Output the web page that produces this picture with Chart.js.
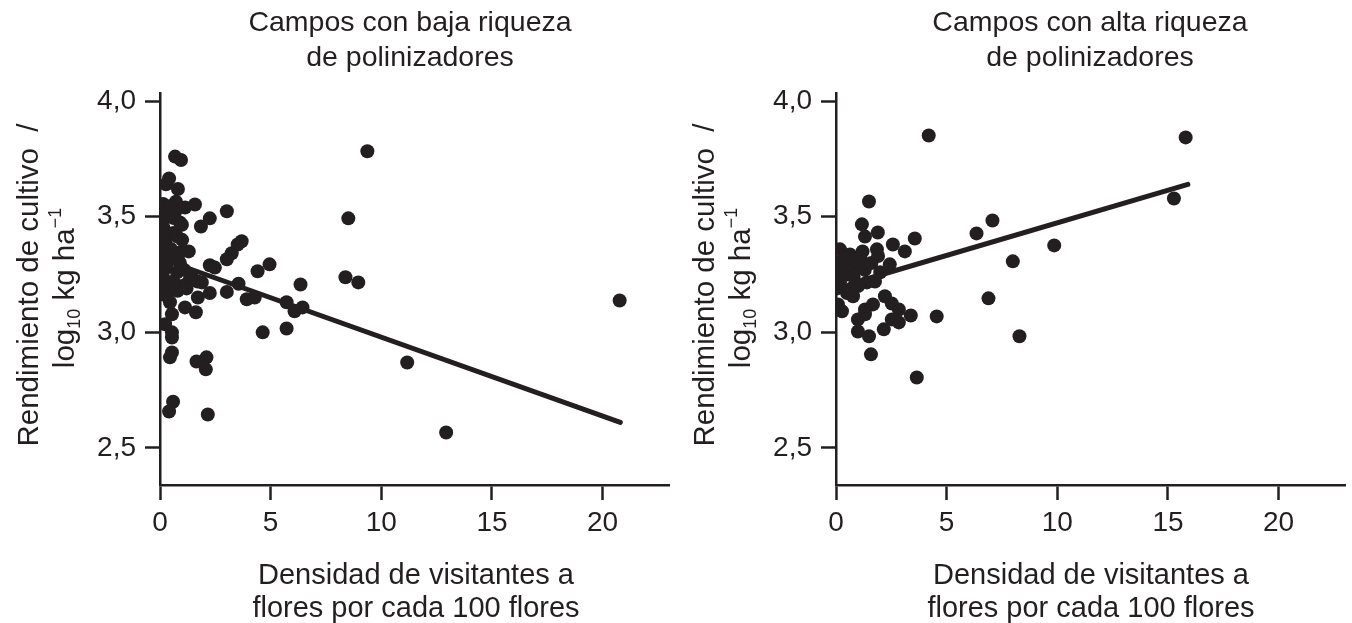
<!DOCTYPE html>
<html>
<head>
<meta charset="utf-8">
<title>Rendimiento de cultivo y densidad de visitantes a flores</title>
<script src="https://cdn.jsdelivr.net/npm/chart.js@4.4.0/dist/chart.umd.min.js"></script>
<style>
  html, body { margin: 0; padding: 0; background: #ffffff; }
  body { width: 1352px; height: 623px; position: relative; overflow: hidden;
         font-family: "Liberation Sans", Arial, Helvetica, sans-serif; color: #231f20; }
  .panel { position: absolute; top: 0; width: 676px; height: 623px; }
  .panel canvas { position: absolute; left: 0; top: 0; }
  .title, .xlab { position: absolute; width: 600px; text-align: center;
                  line-height: 35px; white-space: nowrap; }
  .title { font-size: 28.5px; }
  .xlab { font-size: 29px; line-height: 33px; }
  .ylab { position: absolute; font-size: 29.5px; line-height: 30px; white-space: nowrap;
          transform: translate(-50%, -50%) rotate(-90deg); }
  .ylab sub { font-size: 18px; vertical-align: -6px; line-height: 0; }
  .ylab sup { font-size: 18px; vertical-align: 13px; line-height: 0; }
</style>
</head>
<body>

<div class="panel" id="panelLow" style="left:0px;">
  <canvas id="chartLow" width="676" height="623"></canvas>
  <div class="title" style="left:110px; top:4px;">Campos con baja riqueza<br>de polinizadores</div>
  <div class="xlab" style="left:116px; top:558px;">Densidad de visitantes a<br>flores por cada 100 flores</div>
  <div class="ylab" style="left:28px; top:285px;">Rendimiento de cultivo&nbsp;&nbsp;/</div>
  <div class="ylab" style="left:64px; top:288px;">log<sub>10</sub> kg ha<sup>−1</sup></div>
</div>

<div class="panel" id="panelHigh" style="left:676px;">
  <canvas id="chartHigh" width="676" height="623"></canvas>
  <div class="title" style="left:114px; top:4px;">Campos con alta riqueza<br>de polinizadores</div>
  <div class="xlab" style="left:115px; top:558px;">Densidad de visitantes a<br>flores por cada 100 flores</div>
  <div class="ylab" style="left:28px; top:285px;">Rendimiento de cultivo&nbsp;&nbsp;/</div>
  <div class="ylab" style="left:64px; top:288px;">log<sub>10</sub> kg ha<sup>−1</sup></div>
</div>

<script>
// Visitor density (per 100 flowers) and crop yield (log10 kg/ha), low pollinator richness fields
const lowX = [0.68, 0.95, 0.41, 0.27, 0.81, 0.14, 0.45, 0.72, 1.58, 1.13,
              3.02, 2.25, 1.85, 0.05, 0.05, 0.32, 0.14, 0.68, 0.59, 0.90,
              0.99, 0.59, 0.77, 0.14, 0.14, 0.23, 3.69, 3.51, 3.24, 3.02,
              2.25, 2.48, 4.95, 4.41, 6.35, 0.14, 0.54, 0.99, 0.14, 0.77,
              0.90, 1.10, 1.30, 1.00, 0.80, 1.40, 1.20, 0.60, 0.30, 0.50,
              1.70, 0.32, 0.45, 0.54, 0.23, 0.54, 0.54, 0.54, 0.45, 0.59,
              0.41, 1.65, 2.10, 2.07, 2.16, 4.64, 5.72, 1.13, 1.62, 1.71,
              2.25, 3.02, 3.92, 4.28, 5.72, 6.08, 6.44, 1.89, 0.14, 0.23,
              3.55, 9.37, 8.51, 8.38, 8.96, 20.77, 11.17, 12.93, 1.00, 1.30,
              0.05, 0.05];
const lowY = [3.760, 3.745, 3.665, 3.640, 3.620, 3.555, 3.545, 3.565, 3.553, 3.540,
              3.524, 3.493, 3.458, 3.520, 3.490, 3.500, 3.455, 3.520, 3.495, 3.475,
              3.465, 3.430, 3.415, 3.430, 3.400, 3.390, 3.394, 3.380, 3.342, 3.316,
              3.290, 3.280, 3.294, 3.264, 3.207, 3.337, 3.330, 3.350, 3.240, 3.260,
              3.300, 3.270, 3.220, 3.200, 3.180, 3.250, 3.190, 3.220, 3.280, 3.360,
              3.220, 3.164, 3.130, 3.078, 3.035, 3.000, 2.978, 2.913, 2.892, 2.700,
              2.658, 2.874, 2.892, 2.840, 2.645, 3.000, 3.017, 3.108, 3.087, 3.151,
              3.170, 3.175, 3.143, 3.151, 3.130, 3.091, 3.108, 3.216, 3.164, 3.200,
              3.210, 3.783, 3.493, 3.238, 3.216, 3.138, 2.870, 2.567, 3.400, 3.350,
              3.300, 3.170];

// High pollinator richness fields
const highX = [15.80, 15.27, 9.86, 7.99, 8.29, 4.19, 1.49, 7.07, 6.35, 1.17,
               1.89, 3.56, 2.57, 3.11, 1.31, 1.85, 2.43, 0.18, 0.63, 6.89,
               4.55, 3.38, 2.21, 2.52, 2.84, 2.52, 2.84, 2.16, 1.67, 1.31,
               0.99, 1.31, 0.99, 1.49, 1.58, 3.65, 0.27, 0.09, 0.18, 0.77,
               0.50, 1.40, 1.76, 0.10, 0.30, 0.60, 0.90, 1.10, 1.30, 0.50,
               0.80, 1.00, 1.60, 1.90, 0.20, 2.00, 0.70, 1.20, 0.05, 0.40];
const highY = [3.843, 3.579, 3.376, 3.307, 2.983, 3.851, 3.566, 3.484, 3.428, 3.467,
               3.432, 3.406, 3.380, 3.350, 3.414, 3.359, 3.294, 3.359, 3.337, 3.147,
               3.069, 3.073, 3.156, 3.125, 3.099, 3.056, 3.043, 3.013, 3.121, 3.099,
               3.056, 3.078, 3.004, 2.983, 2.905, 2.805, 3.091, 3.121, 3.216, 3.156,
               3.170, 3.216, 3.220, 3.300, 3.280, 3.310, 3.290, 3.320, 3.270, 3.250,
               3.240, 3.200, 3.300, 3.330, 3.240, 3.260, 3.190, 3.350, 3.190, 3.330];

// Fitted regression lines (endpoints)
const lowTrendX = [0.6, 20.8];
const lowTrendY = [3.300, 2.611];
const highTrendX = [1.0, 15.9];
const highTrendY = [3.220, 3.640];

// Axis ticks
const xTicks = [0, 5, 10, 15, 20];
const yTicks = [2.5, 3.0, 3.5, 4.0];

const INK = '#231f20';
const FONT = '"Liberation Sans", Arial, Helvetica, sans-serif';

function toPoints(xs, ys) {
  return xs.map((x, i) => ({ x: x, y: ys[i] }));
}

function makeChart(canvasId, xs, ys, tx, ty) {
  const ctx = document.getElementById(canvasId).getContext('2d');
  return new Chart(ctx, {
    type: 'scatter',
    data: {
      datasets: [
        {
          type: 'line',
          data: toPoints(tx, ty),
          borderColor: INK,
          borderWidth: 5,
          borderCapStyle: 'round',
          pointRadius: 0,
          fill: false,
          tension: 0,
          order: 0
        },
        {
          data: toPoints(xs, ys),
          backgroundColor: INK,
          borderWidth: 0,
          pointRadius: 7,
          pointHoverRadius: 7,
          order: 1
        }
      ]
    },
    options: {
      responsive: false,
      animation: false,
      devicePixelRatio: 1,
      layout: { padding: { top: 93, right: 6, left: 0, bottom: 0 } },
      plugins: { legend: { display: false }, tooltip: { enabled: false } },
      scales: {
        x: {
          type: 'linear',
          min: 0,
          max: 23,
          afterFit: s => { s.height = 138; },
          afterBuildTicks: s => { s.ticks = xTicks.map(v => ({ value: v })); },
          border: { display: true, color: INK, width: 2.5 },
          grid: { drawOnChartArea: false, drawTicks: true, tickLength: 15, tickWidth: 2.5, tickColor: INK },
          ticks: {
            color: INK,
            padding: 6,
            maxRotation: 0,
            font: { family: FONT, size: 28 },
            callback: v => String(v)
          }
        },
        y: {
          type: 'linear',
          min: 2.34,
          max: 4.035,
          afterFit: s => { s.width = 160; },
          afterBuildTicks: s => { s.ticks = yTicks.map(v => ({ value: v })); },
          border: { display: true, color: INK, width: 2.5 },
          grid: { drawOnChartArea: false, drawTicks: true, tickLength: 15, tickWidth: 2.5, tickColor: INK },
          ticks: {
            color: INK,
            padding: 9,
            font: { family: FONT, size: 28 },
            callback: v => v.toFixed(1).replace('.', ',')
          }
        }
      }
    }
  });
}

makeChart('chartLow', lowX, lowY, lowTrendX, lowTrendY);
makeChart('chartHigh', highX, highY, highTrendX, highTrendY);
</script>
</body>
</html>
